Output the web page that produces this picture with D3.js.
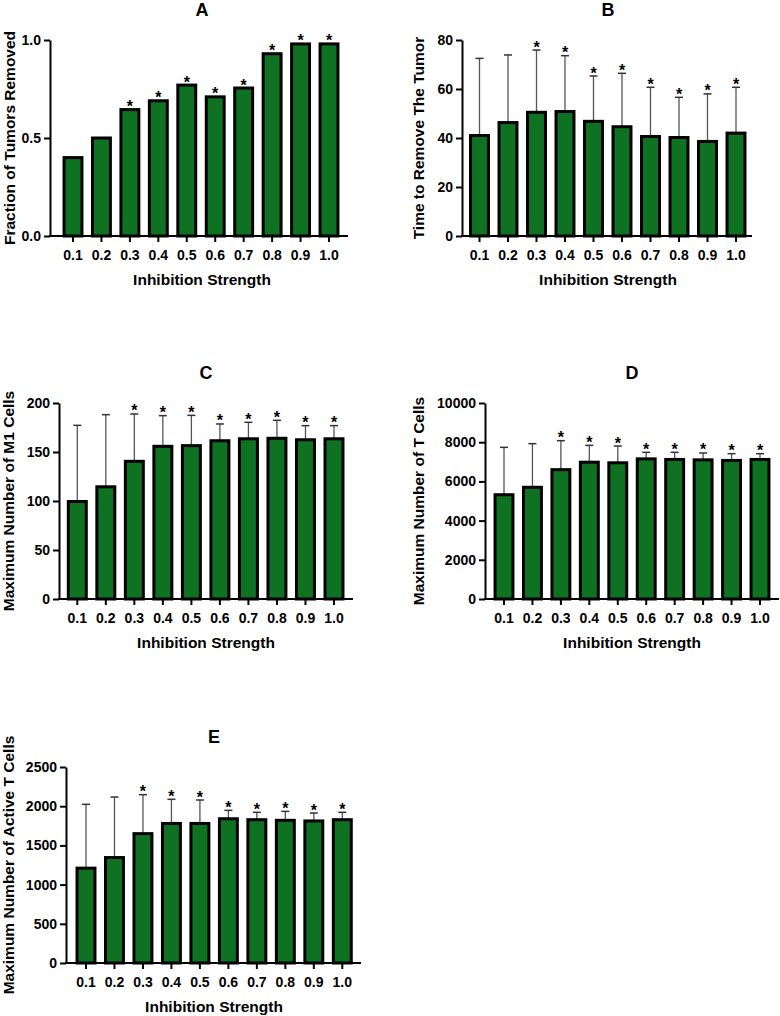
<!DOCTYPE html>
<html>
<head>
<meta charset="utf-8">
<script src="https://cdn.jsdelivr.net/npm/d3@7/dist/d3.min.js"></script>
<style>
  html, body { margin: 0; padding: 0; background: #fff; }
  svg { display: block; font-family: "Liberation Sans", Arial, Helvetica, sans-serif; font-weight: bold; }
</style>
</head>
<body>
<svg id="chart" width="780" height="1016"></svg>
<script>
// ---------- DATA ----------
const categories = ["0.1", "0.2", "0.3", "0.4", "0.5", "0.6", "0.7", "0.8", "0.9", "1.0"];
const significant = [false, false, true, true, true, true, true, true, true, true];

const fractionRemoved = [0.40, 0.50, 0.645, 0.69, 0.77, 0.71, 0.755, 0.93, 0.98, 0.98];
const fractionTicks = [0, 0.5, 1.0];

const timeToRemove   = [41.0, 46.3, 50.5, 50.8, 46.8, 44.6, 40.6, 40.2, 38.6, 42.0];
const timeToRemoveSD = [31.5, 27.6, 25.4, 22.8, 18.5, 21.8, 20.1, 16.4, 19.4, 18.7];
const timeTicks = [0, 20, 40, 60, 80];

const m1Max   = [99.5, 114.5, 140.5, 155.8, 156.5, 161.5, 163.5, 164.0, 162.5, 163.5];
const m1MaxSD = [77.7, 73.6, 48.3, 31.3, 30.9, 17.1, 16.8, 18.3, 14.4, 13.4];
const m1Ticks = [0, 50, 100, 150, 200];

const tMax   = [5320, 5700, 6600, 6980, 6950, 7150, 7120, 7100, 7070, 7120];
const tMaxSD = [2418, 2225, 1478, 860, 856, 333, 363, 349, 345, 295];
const tTicks = [0, 2000, 4000, 6000, 8000, 10000];

const activeTMax   = [1210, 1345, 1650, 1780, 1780, 1840, 1828, 1820, 1812, 1828];
const activeTMaxSD = [814, 772, 497, 308, 299, 107, 94, 114, 101, 94];
const activeTTicks = [0, 500, 1000, 1500, 2000, 2500];

const xTitle = "Inhibition Strength";

// ---------- STYLE ----------
const barFill = "#0e7222";
const svg = d3.select("#chart");

function panel(o) {
  const g = svg.append("g");
  const step = (o.c10 - o.c1) / (categories.length - 1);
  const x = d3.scaleBand()
    .domain(categories)
    .range([o.c1 - step / 2, o.c10 + step / 2])
    .paddingInner(0.37)
    .paddingOuter(0.185);
  const y = d3.scaleLinear().domain([0, o.max]).range([o.yBot, o.yTop]);

  const rows = categories.map((c, i) => ({
    cat: c, v: o.values[i], sd: o.sd ? o.sd[i] : 0, sig: significant[i]
  }));
  const cx = d => x(d.cat) + x.bandwidth() / 2;

  // title
  g.append("text").attr("x", o.cx).attr("y", o.yTop - 30)
    .attr("text-anchor", "middle").attr("dominant-baseline", "central")
    .attr("font-size", 18).text(o.title);

  // error bars
  if (o.sd) {
    const eb = g.append("g").selectAll("g").data(rows).join("g");
    eb.append("line").attr("x1", cx).attr("x2", cx)
      .attr("y1", d => y(d.v)).attr("y2", d => y(d.v + d.sd))
      .attr("stroke", "#555").attr("stroke-width", 1.3);
    eb.append("line").attr("x1", d => cx(d) - 4).attr("x2", d => cx(d) + 4)
      .attr("y1", d => y(d.v + d.sd)).attr("y2", d => y(d.v + d.sd))
      .attr("stroke", "#333").attr("stroke-width", 1.5);
  }

  // bars
  g.append("g").selectAll("rect")
    .data(rows)
    .join("rect")
    .attr("x", d => x(d.cat))
    .attr("width", x.bandwidth())
    .attr("y", d => y(d.v))
    .attr("height", d => y(0) - y(d.v))
    .attr("fill", barFill)
    .attr("stroke", "#000")
    .attr("stroke-width", 3);

  // asterisks
  g.append("g").selectAll("text")
    .data(rows.filter(d => d.sig))
    .join("text")
    .attr("x", cx)
    .attr("y", d => y(d.v + d.sd) + 2.5)
    .attr("text-anchor", "middle")
    .attr("font-size", 16)
    .text("*");

  // y axis
  const ya = g.append("g")
    .attr("transform", `translate(${o.axisX},0)`)
    .call(d3.axisLeft(y).tickValues(o.ticks).tickFormat(o.fmt).tickSize(6).tickPadding(3).tickSizeOuter(0));
  ya.select(".domain").attr("stroke", "#000").attr("stroke-width", 2);
  ya.selectAll(".tick line").attr("stroke", "#000").attr("stroke-width", 2);
  ya.selectAll(".tick text").attr("font-size", 14).attr("font-family", null).attr("fill", "#000");

  // x axis
  const xa = g.append("g")
    .attr("transform", `translate(0,${o.yBot})`)
    .call(d3.axisBottom(x).tickSize(6).tickPadding(8).tickSizeOuter(0));
  xa.select(".domain").remove();
  xa.selectAll(".tick line").attr("stroke", "#000").attr("stroke-width", 2);
  xa.selectAll(".tick text").attr("font-size", 14).attr("font-family", null).attr("fill", "#000");
  g.append("line").attr("x1", o.axisX - 1).attr("x2", o.axisEnd)
    .attr("y1", o.yBot).attr("y2", o.yBot)
    .attr("stroke", "#000").attr("stroke-width", 2);

  // axis titles
  g.append("text").attr("x", o.cx).attr("y", o.yBot + 43)
    .attr("text-anchor", "middle").attr("dominant-baseline", "central")
    .attr("font-size", 15.5).text(xTitle);
  g.append("text")
    .attr("transform", `translate(${o.ylx},${(o.yTop + o.yBot) / 2}) rotate(-90)`)
    .attr("text-anchor", "middle").attr("dominant-baseline", "central")
    .attr("font-size", 15.5).text(o.yTitle);
}

panel({ title: "A", values: fractionRemoved, max: 1, ticks: fractionTicks, fmt: d3.format(".1f"),
  yTitle: "Fraction of Tumors Removed",
  axisX: 50, axisEnd: 348, c1: 73, c10: 329, yTop: 40, yBot: 236, cx: 202, ylx: 9 });

panel({ title: "B", values: timeToRemove, sd: timeToRemoveSD, max: 80, ticks: timeTicks, fmt: d3.format("d"),
  yTitle: "Time to Remove The Tumor",
  axisX: 462, axisEnd: 752, c1: 479.5, c10: 736, yTop: 40, yBot: 236, cx: 608, ylx: 418 });

panel({ title: "C", values: m1Max, sd: m1MaxSD, max: 200, ticks: m1Ticks, fmt: d3.format("d"),
  yTitle: "Maximum Number of M1 Cells",
  axisX: 59, axisEnd: 353, c1: 77.3, c10: 334, yTop: 403, yBot: 599, cx: 206, ylx: 8 });

panel({ title: "D", values: tMax, sd: tMaxSD, max: 10000, ticks: tTicks, fmt: d3.format("d"),
  yTitle: "Maximum Number of T Cells",
  axisX: 485, axisEnd: 779, c1: 504, c10: 760, yTop: 403, yBot: 599, cx: 632, ylx: 418 });

panel({ title: "E", values: activeTMax, sd: activeTMaxSD, max: 2500, ticks: activeTTicks, fmt: d3.format("d"),
  yTitle: "Maximum Number of Active T Cells",
  axisX: 66, axisEnd: 361, c1: 86, c10: 342.3, yTop: 767, yBot: 963, cx: 214, ylx: 8 });
</script>
</body>
</html>
